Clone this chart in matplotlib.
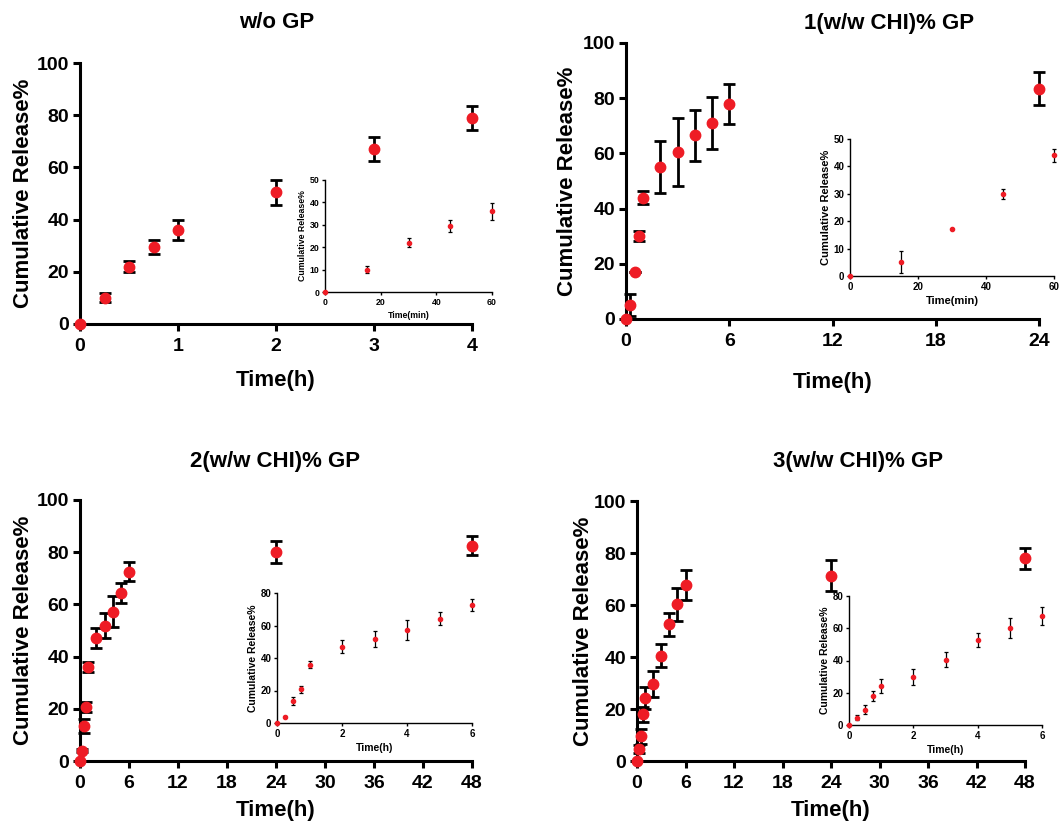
import matplotlib
matplotlib.use("Agg")
import matplotlib.pyplot as plt

plt.rcParams['font.family'] = ['Liberation Sans', 'DejaVu Sans']
plt.rcParams['font.weight'] = 'bold'
plt.rcParams['axes.labelweight'] = 'bold'

# ---------------- data ----------------
titles = ["w/o GP", "1(w/w CHI)% GP", "2(w/w CHI)% GP", "3(w/w CHI)% GP"]

t_a = [0, 0.25, 0.5, 0.75, 1, 2, 3, 4]
val_a = [0, 10, 22, 29.5, 36, 50.5, 67, 79]
err_a = [0, 1.7, 2.0, 2.5, 3.7, 4.8, 4.5, 4.5]
tmin_a = [0, 15, 30, 45, 60]

t_b = [0, 0.25, 0.5, 0.75, 1, 2, 3, 4, 5, 6, 24]
val_b = [0, 5, 17, 30, 44, 55, 60.5, 66.5, 71, 78, 83.5]
err_b = [0, 4, 0, 1.8, 2.4, 9.4, 12.4, 9.4, 9.4, 7.2, 5.9]
tmin_b = [0, 15, 30, 45, 60]

t_c = [0, 0.25, 0.5, 0.75, 1, 2, 3, 4, 5, 6, 24, 48]
val_c = [0, 4, 13.5, 20.7, 36, 47, 51.8, 57.2, 64.3, 72.5, 80, 82.5]
err_c = [0, 0.5, 2.6, 2.0, 2.0, 3.8, 4.8, 5.9, 3.8, 3.7, 4.1, 3.6]

t_d = [0, 0.25, 0.5, 0.75, 1, 2, 3, 4, 5, 6, 24, 48]
val_d = [0, 4.5, 9.6, 17.9, 24.1, 29.7, 40.5, 52.6, 60.2, 67.6, 71.2, 78]
err_d = [0, 1.5, 2.9, 2.9, 4.2, 5.0, 4.5, 4.5, 6.2, 5.8, 6.0, 4.0]

RED = '#EE1C25'

fig = plt.figure(figsize=(10.63, 8.27), dpi=100)
W, H = 1063, 827

def rect(l, r, top, bot):
    return [l / W, 1 - bot / H, (r - l) / W, (bot - top) / H]

def style_main(ax, xlim, xticks, ylim=(0, 100), yticks=range(0, 101, 20)):
    for s in ['top', 'right']:
        ax.spines[s].set_visible(False)
    for s in ['left', 'bottom']:
        ax.spines[s].set_linewidth(2.2)
    ax.set_xlim(*xlim)
    ax.set_ylim(*ylim)
    ax.set_xticks(xticks)
    ax.set_yticks(list(yticks))
    ax.tick_params(direction='out', length=5, width=2.2, labelsize=14)
    ax.tick_params(axis='x', pad=5)
    ax.tick_params(axis='y', pad=3)
    for lab in ax.get_xticklabels() + ax.get_yticklabels():
        lab.set_fontweight('bold')
    ax.set_facecolor('none')

def style_inset(ax, xlim, xticks, ylim, yticks, xlabel, tsize, lsize):
    for s in ['top', 'right']:
        ax.spines[s].set_visible(False)
    for s in ['left', 'bottom']:
        ax.spines[s].set_linewidth(1.0)
    ax.set_xlim(*xlim)
    ax.set_ylim(*ylim)
    ax.set_xticks(xticks)
    ax.set_yticks(yticks)
    ax.tick_params(direction='out', length=2.5, width=1.0, labelsize=tsize, pad=1.5)
    for lab in ax.get_xticklabels() + ax.get_yticklabels():
        lab.set_fontweight('bold')
    ax.set_xlabel(xlabel, fontsize=lsize, fontweight='bold', labelpad=3)
    ax.set_ylabel("Cumulative Release%", fontsize=lsize, fontweight='bold', labelpad=2)
    ax.set_facecolor('none')

def plot_main(ax, t, v, e):
    ax.errorbar(t, v, yerr=e, fmt='o', color=RED, markersize=7.5, ecolor='black',
                elinewidth=2.0, capsize=4, capthick=2.0, clip_on=False, zorder=3)

def plot_inset(ax, t, v, e):
    ax.errorbar(t, v, yerr=e, fmt='o', color=RED, markersize=3, ecolor='black',
                elinewidth=0.9, capsize=1.6, capthick=0.9, clip_on=False, zorder=3)

# ---------- panel A ----------
axA = fig.add_axes(rect(80, 472, 63, 324))
plot_main(axA, t_a, val_a, err_a)
style_main(axA, (0, 4), [0, 1, 2, 3, 4])
axAi = fig.add_axes(rect(325, 492, 180, 292))
plot_inset(axAi, tmin_a, val_a[:5], err_a[:5])
style_inset(axAi, (0, 60), [0, 20, 40, 60], (0, 50), [0, 10, 20, 30, 40, 50], "Time(min)", 6.3, 6.3)

# ---------- panel B ----------
axB = fig.add_axes(rect(626, 1039, 43, 319))
plot_main(axB, t_b, val_b, err_b)
style_main(axB, (0, 24), [0, 6, 12, 18, 24])
axBi = fig.add_axes(rect(850, 1054, 139, 276))
plot_inset(axBi, tmin_b, val_b[:5], err_b[:5])
style_inset(axBi, (0, 60), [0, 20, 40, 60], (0, 50), [0, 10, 20, 30, 40, 50], "Time(min)", 7, 8)

# ---------- panel C ----------
axC = fig.add_axes(rect(80, 472, 500, 761))
plot_main(axC, t_c, val_c, err_c)
style_main(axC, (0, 48), list(range(0, 49, 6)))
axCi = fig.add_axes(rect(277, 472, 593, 723))
plot_inset(axCi, t_c[:10], val_c[:10], err_c[:10])
style_inset(axCi, (0, 6), [0, 2, 4, 6], (0, 80), [0, 20, 40, 60, 80], "Time(h)", 7, 7.5)

# ---------- panel D ----------
axD = fig.add_axes(rect(637, 1025, 501, 761))
plot_main(axD, t_d, val_d, err_d)
style_main(axD, (0, 48), list(range(0, 49, 6)))
axDi = fig.add_axes(rect(849, 1042, 596, 725))
plot_inset(axDi, t_d[:10], val_d[:10], err_d[:10])
style_inset(axDi, (0, 6), [0, 2, 4, 6], (0, 80), [0, 20, 40, 60, 80], "Time(h)", 7, 7.5)

# ---------- labels and titles ----------
for ax, lp in ((axA, 11), (axB, 16), (axC, 6), (axD, 6)):
    ax.set_xlabel("Time(h)", fontsize=16, fontweight='bold', labelpad=lp)
for ax, lp in ((axA, 2), (axB, 3), (axC, 2), (axD, 0)):
    ax.set_ylabel("Cumulative Release%", fontsize=16, fontweight='bold', labelpad=lp)

fig.text(277 / W, 1 - 22 / H, titles[0], ha='center', va='center', fontsize=16, fontweight='bold')
fig.text(889 / W, 1 - 24 / H, titles[1], ha='center', va='center', fontsize=16, fontweight='bold')
fig.text(275 / W, 1 - 462 / H, titles[2], ha='center', va='center', fontsize=16, fontweight='bold')
fig.text(858 / W, 1 - 462 / H, titles[3], ha='center', va='center', fontsize=16, fontweight='bold')

fig.savefig("out.png", dpi=100)
